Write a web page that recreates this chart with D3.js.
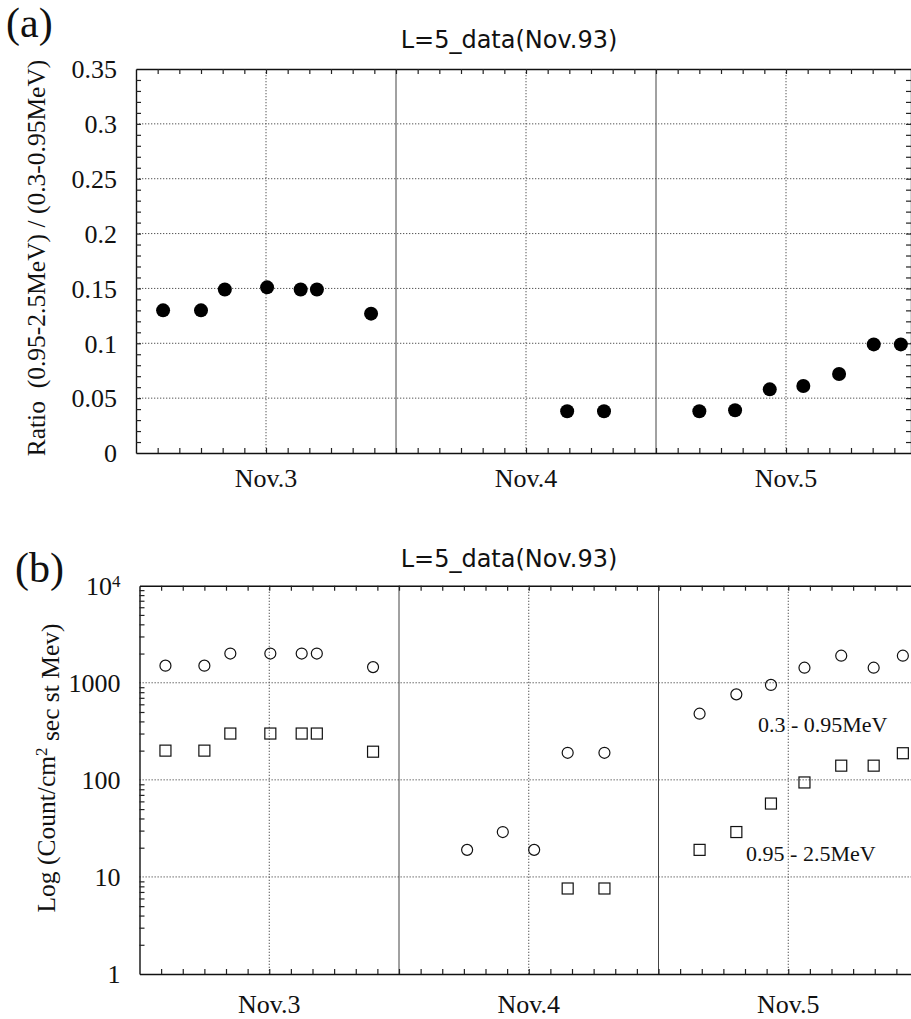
<!DOCTYPE html>
<html>
<head>
<meta charset="utf-8">
<script src="https://cdn.jsdelivr.net/npm/d3@7"></script>
<style>
  body { margin: 0; background: #fff; }
  svg { display: block; }
  .serif { font-family: "Liberation Serif", "Times New Roman", serif; fill: #111; }
  .title { font-family: "DejaVu Sans", sans-serif; font-size: 24px; fill: #111; }
  .grid-dot { stroke: #555; stroke-width: 1; stroke-dasharray: 1.3,1.7; fill: none; }
  .grid-day { stroke: #444; stroke-width: 1; fill: none; }
  .frame path.domain { stroke: #111; stroke-width: 1.4; }
  .frame line { stroke: #222; stroke-width: 1.2; }
</style>
</head>
<body>
<svg id="chart"></svg>
<script>
// ---- panel (a): ratio of energy channels ----
const ratioHours  = [2.5, 6.0, 8.2, 12.1, 15.2, 16.7, 21.7, 39.8, 43.2, 52.0, 55.3, 58.5, 61.6, 64.9, 68.1, 70.6];
const ratioValues = [0.130, 0.130, 0.149, 0.151, 0.149, 0.149, 0.127, 0.038, 0.038, 0.038, 0.039, 0.058, 0.061, 0.072, 0.099, 0.099];
const ratioTicks  = [0, 0.05, 0.1, 0.15, 0.2, 0.25, 0.3, 0.35];
const ratioTickLabels = ["0", "0.05", "0.1", "0.15", "0.2", "0.25", "0.3", "0.35"];

// ---- panel (b): fluxes, 0.3-0.95MeV (circles) and 0.95-2.5MeV (squares) ----
const lowHours  = [2.4, 6.0, 8.4, 12.1, 15.0, 16.4, 21.6, 30.3, 33.6, 36.5, 39.6, 43.0, 51.8, 55.2, 58.4, 61.5, 64.9, 67.9, 70.6];
const lowValues = [1500, 1500, 2000, 2000, 2000, 2000, 1450, 19, 29, 19, 190, 190, 480, 760, 950, 1430, 1900, 1430, 1900];
const highHours  = [2.4, 6.0, 8.4, 12.1, 15.0, 16.4, 21.6, 39.6, 43.0, 51.8, 55.2, 58.4, 61.5, 64.9, 67.9, 70.6];
const highValues = [200, 200, 300, 300, 300, 300, 195, 7.6, 7.6, 19, 29, 57, 94, 140, 140, 188];
const logTicks = [1, 10, 100, 1000, 10000];
const logTickLabels = ["1", "10", "100", "1000", "10^4"];

// shared x axis: hours since Nov.3 00:00
const dayLabels = ["Nov.3", "Nov.4", "Nov.5"];
const dayLabelHours = [12, 36, 60];
const midnightHours = [24, 48];

const svg = d3.select("#chart").attr("width", 911).attr("height", 1019);

function drawPanel(cfg) {
  const g = svg.append("g").attr("transform", `translate(${cfg.left},${cfg.top})`);
  const width = cfg.xMax / 24 * cfg.dayWidth;
  const height = cfg.height;
  const x = d3.scaleLinear().domain([0, cfg.xMax]).range([0, width]);
  const y = cfg.y.range([height, 0]);

  // horizontal dotted grid
  g.selectAll(".hgrid").data(cfg.gridY).join("line")
    .attr("class", "grid-dot")
    .attr("x1", 0).attr("x2", width)
    .attr("y1", d => y(d)).attr("y2", d => y(d));

  // noon gridlines dotted, day boundaries solid
  g.selectAll(".vgrid").data(dayLabelHours).join("line")
    .attr("class", "grid-dot")
    .attr("x1", d => x(d)).attr("x2", d => x(d))
    .attr("y1", 0).attr("y2", height);
  g.selectAll(".vday").data(midnightHours).join("line")
    .attr("class", "grid-day")
    .attr("x1", d => x(d)).attr("x2", d => x(d))
    .attr("y1", 0).attr("y2", height);

  // frame with inward minor ticks
  const hourTicks = d3.range(2, cfg.xMax, 2);
  g.append("g").attr("class", "frame")
    .attr("transform", `translate(0,${height})`)
    .call(d3.axisBottom(x).tickValues(hourTicks).tickSize(-5).tickSizeOuter(0).tickFormat(""));
  g.append("g").attr("class", "frame")
    .call(d3.axisTop(x).tickValues(hourTicks).tickSize(-5).tickSizeOuter(0).tickFormat(""));
  g.append("g").attr("class", "frame")
    .call(d3.axisLeft(y).tickValues(cfg.minorY).tickSize(-5).tickSizeOuter(0).tickFormat(""));
  if (cfg.rightAxis) {
    g.append("g").attr("class", "frame")
      .attr("transform", `translate(${width},0)`)
      .call(d3.axisRight(y).tickValues(cfg.minorY).tickSize(-5).tickSizeOuter(0).tickFormat(""));
  }
  g.selectAll(".frame text").remove();

  // y tick labels
  const yLab = g.append("g")
    .call(d3.axisLeft(y).tickValues(cfg.ticks).tickSize(0).tickPadding(19)
      .tickFormat((d, i) => cfg.tickLabels[i]));
  yLab.select(".domain").remove();
  yLab.selectAll("text")
    .attr("class", "serif")
    .style("font-size", "26px")
    .attr("dy", "0.34em")
    .each(function (d, i) {
      const t = cfg.tickLabels[i];
      if (t.includes("^")) {
        const [b, e] = t.split("^");
        const sel = d3.select(this).text(b);
        sel.append("tspan").attr("dy", "-0.45em").style("font-size", "17px").text(e);
      }
    });

  // day labels
  g.selectAll(".day-label").data(dayLabels).join("text")
    .attr("class", "serif")
    .attr("x", (d, i) => x(dayLabelHours[i]))
    .attr("y", height + cfg.dayLabelOffset)
    .attr("text-anchor", "middle")
    .style("font-size", "26px")
    .text(d => d);

  // title and panel letter
  svg.append("text").attr("class", "title")
    .attr("x", 509).attr("y", cfg.top - cfg.titleGap)
    .attr("text-anchor", "middle")
    .text("L=5_data(Nov.93)");
  svg.append("text").attr("class", "serif")
    .attr("x", cfg.letterX).attr("y", cfg.letterY)
    .style("font-size", "42px")
    .text(cfg.letter);

  return { g, x, y, height };
}

// (a)
const pa = drawPanel({
  left: 136, top: 69, height: 384, dayWidth: 260, xMax: 71.54,
  y: d3.scaleLinear().domain([0, 0.35]),
  gridY: [0.05, 0.1, 0.15, 0.2, 0.25, 0.3],
  minorY: d3.range(1, 35).map(d => d / 100),
  ticks: ratioTicks, tickLabels: ratioTickLabels,
  rightAxis: true, dayLabelOffset: 34, titleGap: 21,
  letter: "(a)", letterX: 6, letterY: 37
});
pa.g.selectAll(".ratio-dot").data(ratioHours).join("circle")
  .attr("cx", d => pa.x(d))
  .attr("cy", (d, i) => pa.y(ratioValues[i]))
  .attr("r", 7)
  .attr("fill", "#000");

svg.append("text").attr("class", "serif")
  .attr("transform", "translate(45,258) rotate(-90)")
  .attr("text-anchor", "middle")
  .style("font-size", "25.5px")
  .attr("xml:space", "preserve")
  .text("Ratio  (0.95-2.5MeV) / (0.3-0.95MeV)");

// (b)
const logMinor = [];
[1, 10, 100, 1000].forEach(dec => d3.range(2, 10).forEach(m => logMinor.push(dec * m)));
const pb = drawPanel({
  left: 139.5, top: 585.7, height: 388.3, dayWidth: 259.5, xMax: 72,
  y: d3.scaleLog().domain([1, 10000]),
  gridY: [10, 100, 1000],
  minorY: logMinor,
  ticks: logTicks, tickLabels: logTickLabels,
  rightAxis: false, dayLabelOffset: 39, titleGap: 19,
  letter: "(b)", letterX: 15, letterY: 582
});
pb.g.selectAll(".low-dot").data(lowHours).join("circle")
  .attr("cx", d => pb.x(d))
  .attr("cy", (d, i) => pb.y(lowValues[i]))
  .attr("r", 5.5)
  .attr("fill", "none")
  .attr("stroke", "#111")
  .attr("stroke-width", 1.2);
pb.g.selectAll(".high-sq").data(highHours).join("rect")
  .attr("x", d => pb.x(d) - 5.5)
  .attr("y", (d, i) => pb.y(highValues[i]) - 5.5)
  .attr("width", 11).attr("height", 11)
  .attr("fill", "none")
  .attr("stroke", "#111")
  .attr("stroke-width", 1.2);

// series labels
pb.g.append("text").attr("class", "serif")
  .attr("x", pb.x(57.2)).attr("y", pb.y(313))
  .style("font-size", "22px")
  .text("0.3 - 0.95MeV");
pb.g.append("text").attr("class", "serif")
  .attr("x", pb.x(56.1)).attr("y", pb.y(14.6))
  .style("font-size", "22px")
  .text("0.95 - 2.5MeV");

const yLabelB = svg.append("text").attr("class", "serif")
  .attr("transform", "translate(55,768) rotate(-90)")
  .attr("text-anchor", "middle")
  .style("font-size", "25.5px");
yLabelB.append("tspan").text("Log (Count/cm");
yLabelB.append("tspan").attr("dy", "-0.5em").style("font-size", "17px").text("2");
yLabelB.append("tspan").attr("dy", "0.5em").text(" sec st Mev)");
</script>
</body>
</html>
